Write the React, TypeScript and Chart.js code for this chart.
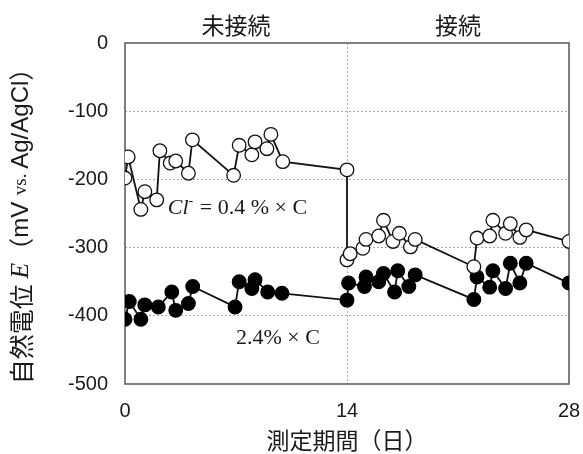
import { useEffect, useRef } from "react";
import { Chart, registerables } from "chart.js";
Chart.register(...registerables);

// Cl- = 0.4% x C (open circles)
const openDays = [0, 0.2, 1, 1.25, 2, 2.2, 2.85, 3.2, 4, 4.25, 6.85, 7.2, 8, 8.2, 8.95, 9.2, 9.95, 14, 14, 14.2, 15, 15.2, 16, 16.3, 16.9, 17.3, 18, 18.3, 22, 22.2, 23, 23.2, 24, 24.3, 24.9, 25.3, 28];
const openValues = [-198, -167, -244, -218, -230, -158, -176, -173, -191, -142, -194, -150, -164, -145, -155, -134, -174, -186, -318, -309, -301, -288, -283, -260, -291, -279, -299, -288, -328, -286, -283, -260, -279, -265, -285, -274, -291];

// 2.4% x C (filled circles)
const filledDays = [0, 0.27, 1, 1.25, 2.1, 2.95, 3.2, 4, 4.27, 6.94, 7.2, 8, 8.2, 9, 9.9, 14, 14.1, 15.1, 15.2, 16, 16.3, 17, 17.2, 17.9, 18.3, 22, 22.2, 23, 23.2, 24, 24.3, 24.9, 25.3, 28];
const filledValues = [-405, -379, -405, -384, -387, -365, -392, -382, -357, -387, -350, -360, -347, -365, -367, -377, -352, -357, -343, -350, -338, -365, -334, -357, -340, -376, -343, -358, -334, -360, -323, -352, -323, -352];

const xTicks = [0, 14, 28];
const yTicks = [0, -100, -200, -300, -400, -500];
const phaseLabels = ["未接続", "接続"];
const phaseCenters = [7, 21];
const seriesLabels = ["0.4", "2.4"];

const SANS = "'Liberation Sans', Arial, sans-serif";
const SERIF = "'Liberation Serif', 'Times New Roman', serif";
const CJK = "'Noto Sans CJK JP', sans-serif";

const decorPlugin = {
  id: "decor",
  beforeDatasetsDraw(chart: any) {
    const { ctx, chartArea: a } = chart;
    ctx.save();
    ctx.strokeStyle = "#555";
    ctx.lineWidth = 1.5;
    ctx.strokeRect(a.left, a.top, a.right - a.left, a.bottom - a.top);
    ctx.restore();
  },
  afterDraw(chart: any) {
    const { ctx } = chart;
    const xs = chart.scales.x;
    const ys = chart.scales.y;
    ctx.save();
    ctx.fillStyle = "#1a1a1a";
    ctx.textBaseline = "middle";
    ctx.textAlign = "center";
    ctx.font = `23px ${CJK}`;
    phaseLabels.forEach((t, i) => {
      ctx.fillText(t, xs.getPixelForValue(phaseCenters[i]), 25);
    });

    // x title
    ctx.font = `23px ${CJK}`;
    ctx.fillText("測定期間（日）", xs.getPixelForValue(14), 440);

    // annotation Cl- = 0.4 % x C
    ctx.textAlign = "left";
    ctx.textBaseline = "alphabetic";
    let x = xs.getPixelForValue(2.7);
    const yb = ys.getPixelForValue(-251);
    ctx.font = `italic 22px ${SERIF}`;
    ctx.fillText("Cl", x, yb);
    x += ctx.measureText("Cl").width;
    ctx.font = `14px ${SERIF}`;
    ctx.fillText("-", x, yb - 9);
    x += ctx.measureText("-").width + 1;
    ctx.font = `22px ${SERIF}`;
    ctx.fillText(` = ${seriesLabels[0]} % × C`, x, yb);

    // annotation 2.4% x C
    ctx.font = `22px ${SERIF}`;
    ctx.fillText(`${seriesLabels[1]}% × C`, xs.getPixelForValue(7.0), ys.getPixelForValue(-441));

    // y title (rotated, mixed fonts)
    const pieces: [string, string][] = [
      ["自然電位 ", `25px ${CJK}`],
      ["E", `italic 26px ${SERIF}`],
      ["（", `25px ${CJK}`],
      ["mV ", `24px ${SANS}`],
      ["vs. ", `19px ${SERIF}`],
      ["Ag/AgCl", `24px ${SANS}`],
      ["）", `25px ${CJK}`],
    ];
    let total = 0;
    pieces.forEach(([t, f]) => {
      ctx.font = f;
      total += ctx.measureText(t).width;
    });
    ctx.translate(21, 220);
    ctx.rotate(-Math.PI / 2);
    ctx.textBaseline = "middle";
    let px = -total / 2;
    pieces.forEach(([t, f]) => {
      ctx.font = f;
      ctx.fillText(t, px, 0);
      px += ctx.measureText(t).width;
    });
    ctx.restore();
  },
};

export default function App() {
  const ref = useRef<HTMLCanvasElement>(null);
  useEffect(() => {
    if (!ref.current) return;
    const chart = new Chart(ref.current, {
      type: "line",
      data: {
        datasets: [
          {
            label: "Cl- = 0.4% × C",
            data: openDays.map((d, i) => ({ x: d, y: openValues[i] })),
            borderColor: "#111",
            borderWidth: 1.8,
            pointRadius: 6.8,
            pointBorderWidth: 1.3,
            pointBackgroundColor: "#fff",
            pointBorderColor: "#111",
            tension: 0,
          },
          {
            label: "2.4% × C",
            data: filledDays.map((d, i) => ({ x: d, y: filledValues[i] })),
            borderColor: "#111",
            borderWidth: 1.8,
            pointRadius: 6.8,
            pointBorderWidth: 1.3,
            pointBackgroundColor: "#000",
            pointBorderColor: "#000",
            tension: 0,
          },
        ],
      },
      options: {
        animation: false,
        responsive: false,
        maintainAspectRatio: false,
        layout: { padding: { top: 43, right: 14, left: 0, bottom: 0 } },
        plugins: { legend: { display: false }, tooltip: { enabled: false } },
        scales: {
          x: {
            type: "linear",
            min: 0,
            max: 28,
            afterFit: (s: any) => { s.height = 70; s.paddingLeft = 0; s.paddingRight = 0; },
            afterBuildTicks: (s: any) => { s.ticks = xTicks.map((v) => ({ value: v })); },
            ticks: { font: { family: SANS, size: 20 }, color: "#1a1a1a", padding: 15, maxRotation: 0 },
            grid: {
              drawTicks: false,
              color: (c: any) => (c.tick && c.tick.value === 14 ? "#aaa" : "rgba(0,0,0,0)"),
              lineWidth: 1,
            },
            border: { display: false, dash: [2, 2] },
          },
          y: {
            min: -500,
            max: 0,
            afterFit: (s: any) => { s.width = 125; s.paddingTop = 0; s.paddingBottom = 0; },
            afterBuildTicks: (s: any) => { s.ticks = yTicks.map((v) => ({ value: v })); },
            ticks: { font: { family: SANS, size: 20 }, color: "#1a1a1a", padding: 17 },
            grid: {
              drawTicks: false,
              color: (c: any) => (c.tick && (c.tick.value === 0 || c.tick.value === -500) ? "rgba(0,0,0,0)" : "#aaa"),
              lineWidth: 1,
            },
            border: { display: false, dash: [2, 2] },
          },
        },
      },
      plugins: [decorPlugin],
    });
    return () => chart.destroy();
  }, []);
  return (
    <div style={{ position: "fixed", left: 0, top: 0, width: 583, height: 454, background: "#fff" }}>
      <canvas ref={ref} width={583} height={454} style={{ width: 583, height: 454 }} />
    </div>
  );
}
